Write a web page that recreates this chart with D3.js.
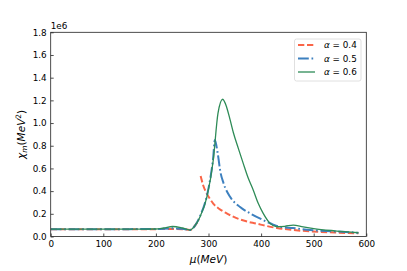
<!DOCTYPE html>
<html><head><meta charset="utf-8">
<script src="https://cdn.jsdelivr.net/npm/d3@7"></script>
<style>body{margin:0;background:#fff}svg text{font-family:"DejaVu Sans",sans-serif}</style>
</head><body>
<svg id="c" width="407" height="271"></svg>
<script>
// data (values in units of 1e6)
const xTicks = [0,100,200,300,400,500,600];
const yTicks = [0.0,0.2,0.4,0.6,0.8,1.0,1.2,1.4,1.6,1.8];
const seriesLabels = ["α = 0.4","α = 0.5","α = 0.6"];

const muRed = [0,50,100,150,200,230,250,265,275,282,null,285,290,296.5,303,309,320,334.6,347,360,375,390,410,430,460,493,540,585];
const vRed  = [0.065,0.065,0.065,0.065,0.065,0.066,0.065,0.058,0.1,0.15,null,0.533,0.45,0.38,0.33,0.29,0.245,0.204,0.175,0.15,0.13,0.115,0.093,0.075,0.058,0.045,0.035,0.028];

const muBlue = [0,50,100,150,200,232,250,265,275,284,297,303,309,312,315,318.6,322,328.6,341,360,379,404,423,436,460,493,540,585];
const vBlue  = [0.065,0.065,0.065,0.065,0.066,0.072,0.068,0.058,0.1,0.18,0.36,0.5,0.7,0.85,0.8,0.7,0.586,0.47,0.35,0.26,0.204,0.145,0.105,0.086,0.075,0.057,0.045,0.033];

const muGreen = [0,50,100,150,200,215,232,250,265,275,284,297,309,318,327,334.5,341,347.6,356.7,366,375.7,385,394.7,404,417,430,445,461,480,500,540,585];
const vGreen  = [0.065,0.065,0.065,0.065,0.066,0.075,0.088,0.075,0.057,0.1,0.175,0.35,0.67,1.085,1.21,1.14,1.03,0.91,0.777,0.645,0.513,0.41,0.29,0.204,0.116,0.086,0.09,0.101,0.085,0.07,0.05,0.033];

const svg = d3.select("#c");
const L=50.7, R=366.3, T=32.3, B=236.5;
const x = d3.scaleLinear().domain([0,600]).range([L,R]);
const y = d3.scaleLinear().domain([0,1.8]).range([B,T]);

const series = [
  {mu:muRed, v:vRed, color:"#fa6548", w:2, dash:"6.3,2.7"},
  {mu:muBlue, v:vBlue, color:"#3d80bf", w:2, dash:"10.8,2.7,1.7,2.7"},
  {mu:muGreen, v:vGreen, color:"#2e8b57", w:1.3, dash:null}
];

const g = svg.append("g");
const clip = svg.append("clipPath").attr("id","cp").append("rect").attr("x",L).attr("y",T).attr("width",R-L).attr("height",B-T);
const line = d3.line().defined(d=>d[0]!==null).x(d=>x(d[0])).y(d=>y(d[1])).curve(d3.curveMonotoneX);
series.forEach(s=>{
  const pts = s.mu.map((m,i)=>[m,s.v[i]]);
  g.append("path").attr("d",line(pts)).attr("fill","none").attr("stroke",s.color)
   .attr("stroke-width",s.w).attr("stroke-dasharray",s.dash).attr("clip-path","url(#cp)");
});

// axes
const xa = svg.append("g").attr("transform",`translate(0,${B})`)
  .call(d3.axisBottom(x).tickValues(xTicks).tickSizeInner(-3).tickSizeOuter(0).tickPadding(4).tickFormat(d3.format("d")));
const ya = svg.append("g").attr("transform",`translate(${L},0)`)
  .call(d3.axisLeft(y).tickValues(yTicks).tickSizeInner(-3).tickSizeOuter(0).tickPadding(4).tickFormat(d3.format(".1f")));
[xa,ya].forEach(a=>{a.select(".domain").remove();a.selectAll("text").attr("font-size","8.8px").attr("fill","#000").style("font-family","DejaVu Sans");a.selectAll("line").attr("stroke","#000").attr("stroke-width",0.7);});
svg.append("rect").attr("x",L).attr("y",T).attr("width",R-L).attr("height",B-T).attr("fill","none").attr("stroke","#222").attr("stroke-width",0.8);

svg.append("text").attr("x",L).attr("y",T-3).attr("font-size","8.8px").text("1e6");

// axis labels
svg.append("text").attr("x",(L+R)/2).attr("y",263).attr("text-anchor","middle").attr("font-size","10.5px")
  .html('<tspan font-style="italic">μ</tspan>(<tspan font-style="italic">MeV</tspan>)');
svg.append("text").attr("transform",`translate(25,${(T+B)/2}) rotate(-90)`).attr("text-anchor","middle").attr("font-size","10.5px")
  .html('<tspan font-style="italic">χ</tspan><tspan font-style="italic" font-size="7.4px" dy="2.2">m</tspan><tspan dy="-2.2">(</tspan><tspan font-style="italic">MeV</tspan><tspan font-size="7.4px" dy="-4">2</tspan><tspan dy="4">)</tspan>');

// legend
const lg = svg.append("g");
lg.append("rect").attr("x",294.5).attr("y",39).attr("width",66.5).attr("height",42).attr("rx",2)
  .attr("fill","#fff").attr("fill-opacity",0.8).attr("stroke","#d8d8d8").attr("stroke-width",0.8);
const ly=[45,58.5,72];
series.forEach((s,i)=>{
  lg.append("line").attr("x1",298).attr("x2",315).attr("y1",ly[i]).attr("y2",ly[i]).attr("stroke",s.color)
   .attr("stroke-width",s.w).attr("stroke-dasharray",s.dash);
  const parts = seriesLabels[i].split(" = ");
  lg.append("text").attr("x",324).attr("y",ly[i]+3).attr("font-size","8.8px")
    .html(`<tspan font-style="italic">${parts[0]}</tspan> = ${parts[1]}`);
});
</script>
</body></html>
